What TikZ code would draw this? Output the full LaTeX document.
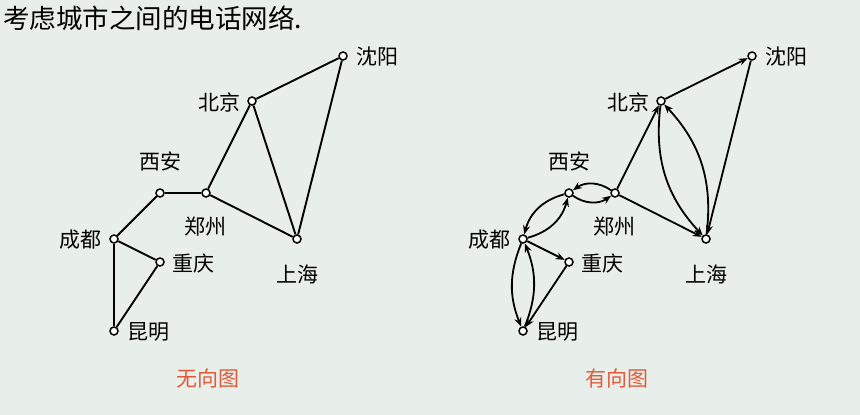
\documentclass[tikz,border=0pt]{standalone}
\usepackage{fontspec}
\setmainfont{Noto Sans CJK SC}
\usetikzlibrary{arrows.meta}
\definecolor{bg}{RGB}{232,238,234}
\definecolor{lab}{RGB}{222,92,58}
\begin{document}
\begin{tikzpicture}[x=1pt,y=-1pt,
 city/.style={circle,draw,fill=white,line width=1.5pt,inner sep=0pt,minimum size=8pt},
 txt/.style={font=\fontsize{21}{25}\selectfont,inner sep=0pt},
 captext/.style={font=\fontsize{21}{25}\selectfont,inner sep=0pt,text=lab},
 edge/.style={line width=1.9pt},
 arr/.style={line width=1.8pt,-{Stealth[length=9pt,width=7pt]}}]
\fill[bg] (0,0) rectangle (860,415);
\useasboundingbox (0,0) rectangle (860,415);
\node[anchor=west,font=\fontsize{26.5}{30}\selectfont,inner sep=0pt] (title) at (3,18) {考虑城市之间的电话网络.};
% left graph
\node[city] (Lsy) at (343,56) {};
\node[city] (Lbj) at (252,101) {};
\node[city] (Lxa) at (160,193) {};
\node[city] (Lzz) at (206,193) {};
\node[city] (Lsh) at (297,239) {};
\node[city] (Lcd) at (114,239) {};
\node[city] (Lcq) at (160,262) {};
\node[city] (Lkm) at (114,331) {};
\node[txt] (tLsy) at (377,57) {沈阳};
\node[txt] (tLbj) at (219,102) {北京};
\node[txt] (tLxa) at (160,161) {西安};
\node[txt] (tLzz) at (205,227) {郑州};
\node[txt] (tLsh) at (297,274) {上海};
\node[txt] (tLcd) at (80,240) {成都};
\node[txt] (tLcq) at (193,263) {重庆};
\node[txt] (tLkm) at (148,332) {昆明};
\draw[edge] (Lbj) -- (Lsy);
\draw[edge] (Lsy) -- (Lsh);
\draw[edge] (Lbj) -- (Lsh);
\draw[edge] (Lzz) -- (Lbj);
\draw[edge] (Lzz) -- (Lsh);
\draw[edge] (Lxa) -- (Lzz);
\draw[edge] (Lcd) -- (Lxa);
\draw[edge] (Lcd) -- (Lcq);
\draw[edge] (Lcq) -- (Lkm);
\draw[edge] (Lcd) -- (Lkm);
% right graph
\node[city] (Rsy) at (752,56) {};
\node[city] (Rbj) at (661,101) {};
\node[city] (Rxa) at (569,193) {};
\node[city] (Rzz) at (615,193) {};
\node[city] (Rsh) at (706,239) {};
\node[city] (Rcd) at (523,239) {};
\node[city] (Rcq) at (569,262) {};
\node[city] (Rkm) at (523,331) {};
\node[txt] (tRsy) at (786,57) {沈阳};
\node[txt] (tRbj) at (628,102) {北京};
\node[txt] (tRxa) at (569,161) {西安};
\node[txt] (tRzz) at (614,227) {郑州};
\node[txt] (tRsh) at (706,274) {上海};
\node[txt] (tRcd) at (489,240) {成都};
\node[txt] (tRcq) at (602,263) {重庆};
\node[txt] (tRkm) at (557,332) {昆明};
\draw[arr] (Rbj) -- (Rsy);
\draw[arr] (Rsy) -- (Rsh);
\draw[arr] (Rzz) -- (Rbj);
\draw[arr] (Rzz) -- (Rsh);
\draw[arr] (Rbj) to[bend right=25] (Rsh);
\draw[arr] (Rsh) to[bend right=25] (Rbj);
\draw[arr] (Rzz) to[bend right=35] (Rxa);
\draw[arr] (Rxa) to[bend right=35] (Rzz);
\draw[arr] (Rxa) to[bend right=30] (Rcd);
\draw[arr] (Rcd) to[bend right=30] (Rxa);
\draw[arr] (Rcd) -- (Rcq);
\draw[arr] (Rcq) -- (Rkm);
\draw[arr] (Rcd) to[bend right=22] (Rkm);
\draw[arr] (Rkm) to[bend right=22] (Rcd);
% captions
\node[captext] (c1) at (208,378) {无向图};
\node[captext] (c2) at (617,378) {有向图};
\end{tikzpicture}
\end{document}
